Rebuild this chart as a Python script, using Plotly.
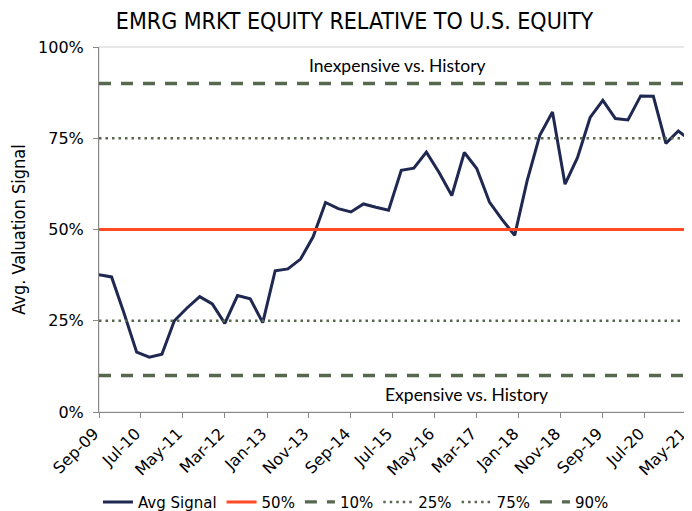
import pandas as pd
import plotly.graph_objects as go

# Quarterly dates Sep-09 .. Jun-21 (48 observations)
dates = pd.date_range("2009-09-01", periods=48, freq="3MS")

avg_signal = [37.6, 37.0, 27.1, 16.4, 15.0, 15.8, 25.0, 28.5, 31.6, 29.6,
              24.3, 31.9, 31.0, 24.5, 38.7, 39.2, 41.9, 48.0, 57.4, 55.7,
              54.8, 57.0, 56.1, 55.3, 66.2, 66.8, 71.2, 65.6, 59.3, 71.1,
              66.7, 57.5, 52.7, 48.4, 63.3, 75.8, 82.2, 62.4, 69.7, 80.7,
              85.4, 80.4, 80.0, 86.6, 86.5, 73.6, 77.0, 74.3]

ref_names = ["50%", "10%", "25%", "75%", "90%"]
ref_levels = [50, 10, 25, 75, 90]

tick_dates = ["2009-09-01", "2010-07-01", "2011-05-01", "2012-03-01", "2013-01-01",
              "2013-11-01", "2014-09-01", "2015-07-01", "2016-05-01", "2017-03-01",
              "2018-01-01", "2018-11-01", "2019-09-01", "2020-07-01", "2021-05-01"]
tick_labels = ["Sep-09", "Jul-10", "May-11", "Mar-12", "Jan-13", "Nov-13", "Sep-14",
               "Jul-15", "May-16", "Mar-17", "Jan-18", "Nov-18", "Sep-19", "Jul-20", "May-21"]

y_tickvals = [0, 25, 50, 75, 100]
y_ticktext = ["0%", "25%", "50%", "75%", "100%"]

NAVY = "#1f2850"
RED = "#ff4a24"
GREEN = "#56694f"

styles = {
    "50%": dict(color=RED, width=3, dash="solid"),
    "10%": dict(color=GREEN, width=3.3, dash="12px,10px"),
    "25%": dict(color=GREEN, width=2.5, dash="2.5px,4px"),
    "75%": dict(color=GREEN, width=2.5, dash="2.5px,4px"),
    "90%": dict(color=GREEN, width=3.3, dash="12px,10px"),
}

fig = go.Figure()
fig.add_trace(go.Scatter(x=dates, y=avg_signal, mode="lines", name="Avg Signal",
                         line=dict(color=NAVY, width=3), legendrank=1))
x_span = [dates[0], dates[-1]]
for i, (name, lvl) in enumerate(zip(ref_names, ref_levels)):
    fig.add_trace(go.Scatter(x=x_span, y=[lvl, lvl], mode="lines", name=name,
                             line=styles[name], legendrank=i + 2))

tick_font = dict(family="DejaVu Sans", size=16, color="#000000")

# the page body has an 8px margin, so the figure is sized 8px smaller
fig.update_layout(
    width=684, height=503,
    margin=dict(l=91, r=1, t=39, b=99, autoexpand=False),
    paper_bgcolor="white", plot_bgcolor="white",
    showlegend=True,
    title=dict(text="EMRG MRKT EQUITY RELATIVE TO U.S. EQUITY",
               xref="container", x=0.5066, xanchor="center", y=0.975, yanchor="middle",
               font=dict(family="DejaVu Sans Condensed, DejaVu Sans", size=23, color="#000000")),
    legend=dict(orientation="h", x=0.434, xanchor="center", y=-0.247, yanchor="middle",
                font=dict(family="DejaVu Sans", size=15, color="#000000"),
                itemwidth=30, tracegroupgap=0, bgcolor="rgba(0,0,0,0)"),
    xaxis=dict(range=[dates[0], dates[-1]], tickmode="array", tickvals=tick_dates,
               ticktext=tick_labels, tickangle=-45, ticks="outside", ticklen=5,
               tickcolor="#888888", showline=True, linecolor="#888888", linewidth=1,
               showgrid=False, zeroline=False, tickfont=tick_font, automargin=False,
               ticklabeloverflow="allow", ticklabelshift=-5),
    yaxis=dict(range=[0, 100], tickmode="array", tickvals=y_tickvals, ticktext=y_ticktext,
               ticks="outside", ticklen=5, tickcolor="#888888", showline=True,
               linecolor="#888888", linewidth=1, showgrid=False, zeroline=False,
               tickfont=tick_font, automargin=False, ticklabelstandoff=6,
               title=dict(text="Avg. Valuation Signal", standoff=8,
                          font=dict(family="DejaVu Sans Condensed, DejaVu Sans", size=18,
                                    color="#000000"))),
    shapes=[dict(type="rect", xref="paper", yref="paper", x0=0, y0=0, x1=1, y1=1,
                 line=dict(color="#d0d0d0", width=1), layer="below")],
    annotations=[
        dict(text="Inexpensive vs. History", xref="x", yref="y", x="2015-08-01", y=94.9,
             showarrow=False, font=dict(family="Lato", size=17.5, color="#000000")),
        dict(text="Expensive vs. History", xref="x", yref="y", x="2016-12-20", y=4.7,
             showarrow=False, font=dict(family="Lato", size=17.5, color="#000000")),
    ],
)

fig.write_html("out.html")
